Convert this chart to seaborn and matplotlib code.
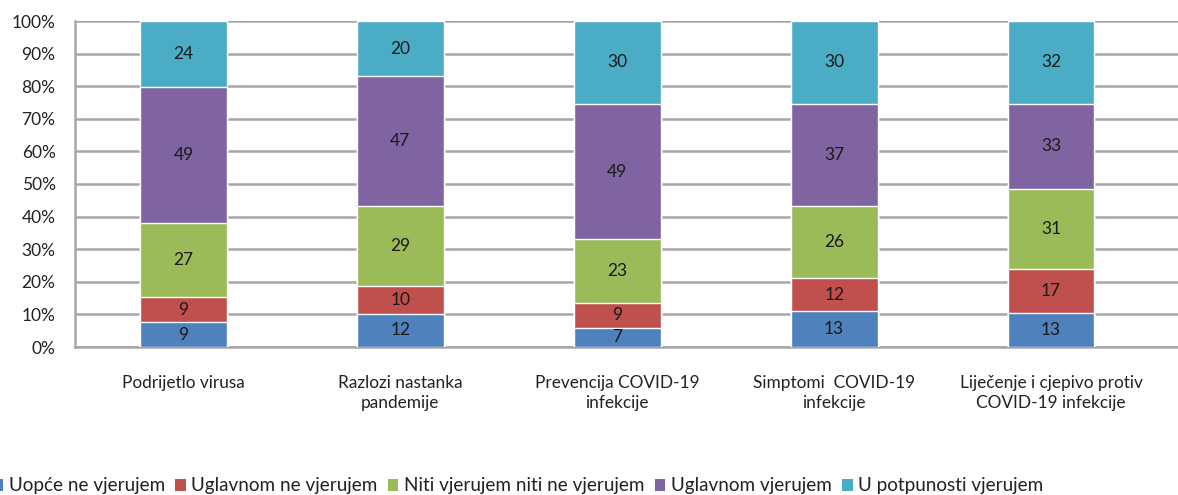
# 100% stacked bars - povjerenje u informacije o COVID-19
import numpy as np
import pandas as pd
import matplotlib
matplotlib.use('Agg')
import matplotlib.pyplot as plt
import seaborn as sns
from matplotlib.patches import Patch

categories = ['Podrijetlo virusa', 'Razlozi nastanka\npandemije',
              'Prevencija COVID-19\ninfekcije', 'Simptomi  COVID-19\ninfekcije',
              'Liječenje i cjepivo protiv\nCOVID-19 infekcije']
series = ['Uopće ne vjerujem', 'Uglavnom ne vjerujem', 'Niti vjerujem niti ne vjerujem',
          'Uglavnom vjerujem', 'U potpunosti vjerujem']
uopce_ne = [9, 12, 7, 13, 13]
uglavnom_ne = [9, 10, 9, 12, 17]
niti = [27, 29, 23, 26, 31]
uglavnom = [49, 47, 49, 37, 33]
potpuno = [24, 20, 30, 30, 32]
colors = ['#4F81BD', '#C0504D', '#9BBB59', '#8064A2', '#4BACC6']

sns.set_style('white')
plt.rcParams['font.family'] = ['Lato', 'DejaVu Sans']

# share of each answer per category
df = pd.DataFrame({'kategorija': categories,
                   series[0]: uopce_ne, series[1]: uglavnom_ne, series[2]: niti,
                   series[3]: uglavnom, series[4]: potpuno})
counts = df[series]
pct = counts.div(counts.sum(axis=1), axis=0) * 100
cum = pct.cumsum(axis=1)

fig = plt.figure(figsize=(11.78, 4.95), dpi=100)
ax = fig.add_axes([75 / 1178, 148 / 495, 1115 / 1178, 326 / 495])

# draw from the top segment down so the lower ones cover it
for i in range(len(series) - 1, -1, -1):
    sns.barplot(x=df['kategorija'], y=cum[series[i]], color=colors[i], width=0.4,
                saturation=1, ax=ax, zorder=3)

# value labels in the middle of each segment
for j in range(len(categories)):
    for i, s in enumerate(series):
        mid = cum[s].iloc[j] - pct[s].iloc[j] / 2
        ax.text(j, mid, str(counts[s].iloc[j]), ha='center', va='center',
                fontsize=12.5, color='#1a1a1a', zorder=4)

ax.set_ylim(0, 100)
ax.set_xlim(-0.5, (1190 - 183) / 217)
ax.set_yticks(np.arange(0, 101, 10))
ax.set_yticklabels([f'{v}%' for v in range(0, 101, 10)], fontsize=12.5, color='#222222')
ax.yaxis.grid(True, color='#a6a6a6', linewidth=1.8, zorder=0)
ax.set_axisbelow(True)
ax.tick_params(axis='y', length=0, pad=14)
ax.tick_params(axis='x', length=0, pad=20, labelsize=12.4, labelcolor='#222222')
for lab in ax.get_xticklabels():
    lab.set_linespacing(1.3)
ax.set_xlabel('')
ax.set_ylabel('')
for side in ['top', 'right']:
    ax.spines[side].set_visible(False)
for side in ['left', 'bottom']:
    ax.spines[side].set_color('#a6a6a6')
    ax.spines[side].set_linewidth(1.8)

handles = [Patch(facecolor=c, edgecolor='none') for c in colors]
fig.legend(handles, series, loc='center', bbox_to_anchor=(518 / 1178, 1 - 486 / 495),
           ncol=5, frameon=False, fontsize=13.6, handlelength=0.55, handleheight=0.55,
           handletextpad=0.3, columnspacing=0.55, labelcolor='#222222')

fig.savefig('out.png', dpi=100)
